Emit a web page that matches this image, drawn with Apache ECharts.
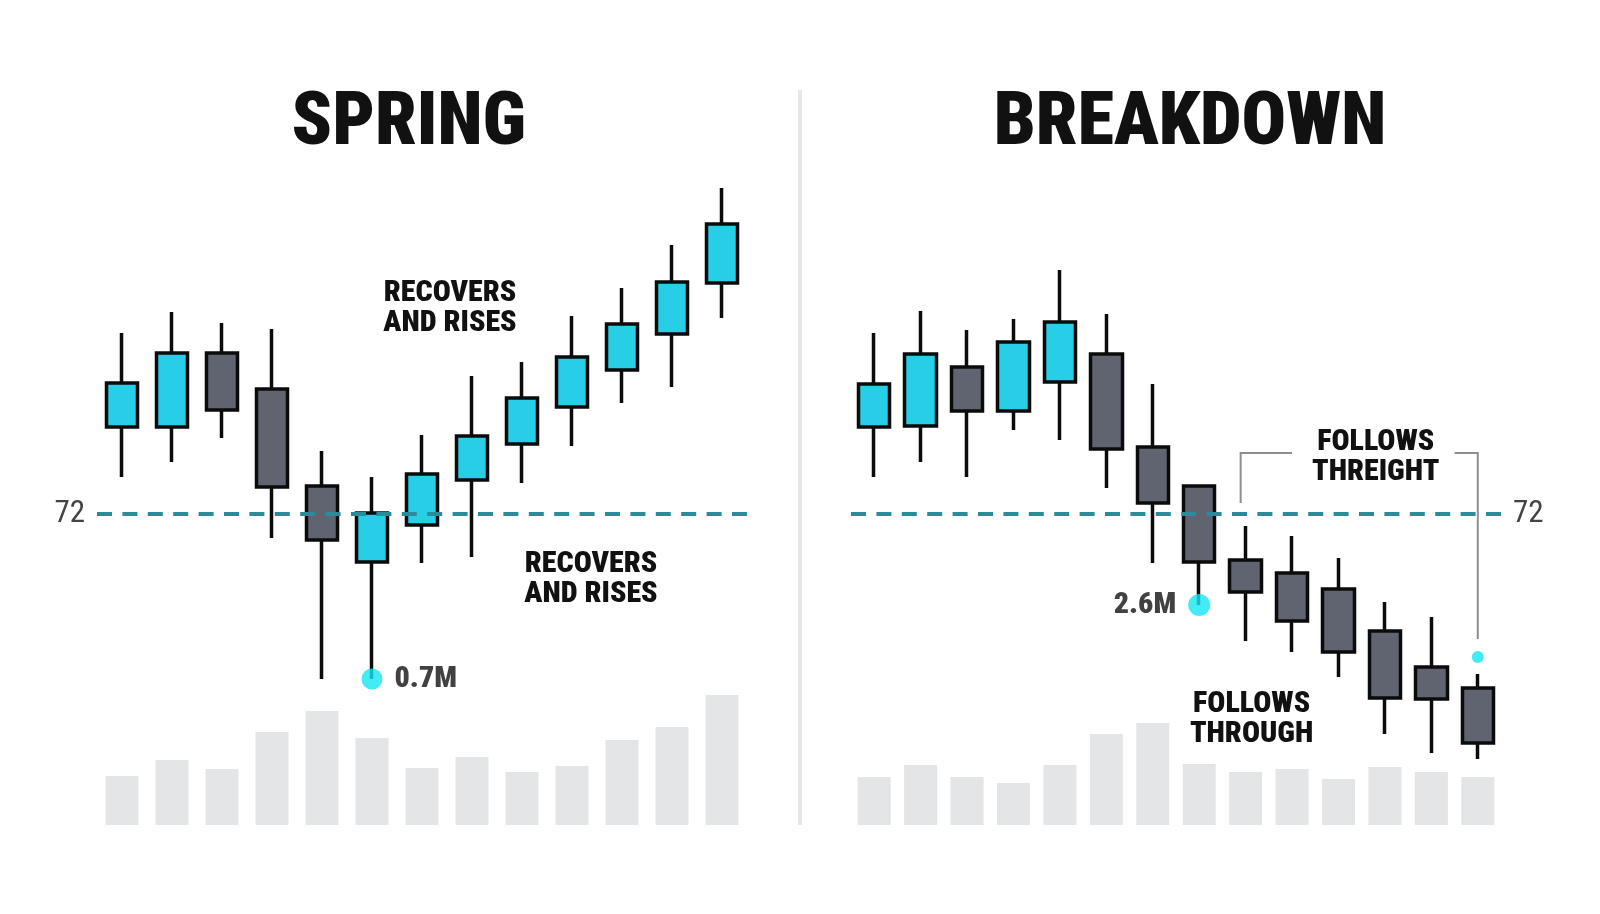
<!DOCTYPE html>
<html>
<head>
<meta charset="utf-8">
<style>
  html, body { margin: 0; padding: 0; background: #ffffff; }
  #chart { width: 1600px; height: 914px; }
</style>
<script src="https://cdn.jsdelivr.net/npm/echarts@6/dist/echarts.min.js"></script>
</head>
<body>
<div id="chart"></div>
<script>
// ---------- DATA ----------
const springCategories = ['1','2','3','4','5','6','7','8','9','10','11','12','13'];
const springOpen  = [76.35, 76.35, 80.05, 78.25, 73.40, 69.60, 71.45, 73.70, 75.50, 77.35, 79.20, 81.00, 83.55];
const springClose = [78.55, 80.05, 77.20, 73.35, 70.70, 72.05, 74.00, 75.90, 77.80, 79.85, 81.50, 83.60, 86.50];
const springLow   = [73.85, 74.60, 75.80, 70.80, 63.75, 63.75, 69.55, 69.85, 73.55, 75.40, 77.55, 78.35, 81.80];
const springHigh  = [81.05, 82.10, 81.55, 81.25, 75.15, 73.85, 75.95, 78.90, 79.60, 81.90, 83.30, 85.45, 88.30];
const springVolume = [0.98, 1.30, 1.12, 1.86, 2.28, 1.74, 1.14, 1.36, 1.06, 1.18, 1.70, 1.96, 2.60];

const breakdownCategories = ['1','2','3','4','5','6','7','8','9','10','11','12','13','14'];
const breakdownOpen  = [76.35, 76.40, 79.35, 77.15, 78.60, 80.00, 75.35, 73.40, 69.70, 69.05, 68.25, 66.15, 64.35, 63.30];
const breakdownClose = [78.50, 80.00, 77.15, 80.60, 81.60, 75.25, 72.55, 69.60, 68.10, 66.65, 65.10, 62.80, 62.75, 60.55];
const breakdownLow   = [73.85, 74.60, 73.85, 76.20, 75.70, 73.30, 69.55, 67.45, 65.65, 65.10, 63.85, 61.00, 60.05, 59.75];
const breakdownHigh  = [81.05, 82.15, 81.20, 81.75, 84.20, 82.00, 78.50, 73.40, 71.40, 70.90, 69.80, 67.60, 66.85, 64.00];
const breakdownVolume = [0.96, 1.20, 0.96, 0.84, 1.20, 1.82, 2.04, 1.22, 1.06, 1.12, 0.92, 1.16, 1.06, 0.96];

const levelValue = 72;
const levelLabel = '72';

// markers: [categoryIndex, price]
const springMarker = [5, 63.75];
const springMarkerLabel = '0.7M';
const breakdownMarker = [7, 67.45];
const breakdownMarkerLabel = '2.6M';
const breakdownSmallMarker = [13, 64.85];

const titles = ['SPRING', 'BREAKDOWN'];
const springNotes = ['RECOVERS\nAND RISES', 'RECOVERS\nAND RISES'];
const breakdownNotes = ['FOLLOWS\nTHREIGHT', 'FOLLOWS\nTHROUGH'];
// bracket: [leftCat, rightCat, topPrice, leftBottomPrice, rightBottomPrice]
const bracketSpec = [8, 13, 75.05, 72.55, 65.75];

// ---------- STYLE ----------
const FONT = "'Liberation Sans Narrow', 'Roboto Condensed', 'DejaVu Sans Condensed', Roboto, sans-serif";
const CYAN = '#26CEE6';
const GREY = '#5F6470';
const DOT = '#14E6F3';
const TEAL = '#2A8C9B';
const VOL = '#E4E5E7';

function ohlc(o, c, l, h) { return o.map((v, i) => [v, c[i], l[i], h[i]]); }

const chart = echarts.init(document.getElementById('chart'), null, { renderer: 'canvas' });

const gridW = 650;
const grids = [
  { left: 97, top: 174, width: gridW, height: 600 },
  { left: 851, top: 174, width: gridW, height: 600 },
  { left: 97, top: 675, width: gridW, height: 150 },
  { left: 851, top: 675, width: gridW, height: 150 }
];

function xAx(gi, cats) { return { type: 'category', gridIndex: gi, data: cats, show: false, boundaryGap: true }; }
function yPrice(gi) { return { type: 'value', gridIndex: gi, min: 59, max: 89, show: false, splitLine: { show: false } }; }
function yVol(gi) { return { type: 'value', gridIndex: gi, min: 0, max: 3, show: false, splitLine: { show: false } }; }

function levelLine(pos) {
  return {
    silent: true,
    symbol: 'none',
    lineStyle: { color: TEAL, type: [15, 10.4], width: 4 },
    label: { show: true, position: pos, formatter: levelLabel, fontSize: 31, color: '#444444', fontFamily: FONT, distance: 12 },
    data: [{ yAxis: levelValue }]
  };
}

function candle(name, xi, yi, data, pos) {
  return {
    name, type: 'candlestick', xAxisIndex: xi, yAxisIndex: yi,
    data, barWidth: 32,
    itemStyle: { color: CYAN, color0: GREY, borderColor: '#0b0b0b', borderColor0: '#0b0b0b', borderWidth: 3.5 },
    markLine: levelLine(pos),
    z: 3
  };
}

const option = {
  animation: false,
  backgroundColor: '#ffffff',
  grid: grids,
  xAxis: [xAx(0, springCategories), xAx(1, breakdownCategories), xAx(2, springCategories), xAx(3, breakdownCategories)],
  yAxis: [yPrice(0), yPrice(1), yVol(2), yVol(3)],
  series: [
    { type: 'bar', xAxisIndex: 2, yAxisIndex: 2, data: springVolume, barWidth: 33, itemStyle: { color: VOL }, z: 1 },
    { type: 'bar', xAxisIndex: 3, yAxisIndex: 3, data: breakdownVolume, barWidth: 33, itemStyle: { color: VOL }, z: 1 },
    candle('spring', 0, 0, ohlc(springOpen, springClose, springLow, springHigh), 'start'),
    candle('breakdown', 1, 1, ohlc(breakdownOpen, breakdownClose, breakdownLow, breakdownHigh), 'end'),
    {
      type: 'scatter', xAxisIndex: 0, yAxisIndex: 0, z: 5, symbolSize: 21,
      itemStyle: { color: DOT },
      label: { show: true, position: 'right', distance: 12, formatter: springMarkerLabel, fontSize: 30, fontWeight: 900, color: '#111', fontFamily: FONT },
      data: [springMarker]
    },
    {
      type: 'scatter', xAxisIndex: 1, yAxisIndex: 1, z: 5, symbolSize: 22,
      itemStyle: { color: DOT },
      label: { show: true, position: 'left', distance: 12, formatter: breakdownMarkerLabel, fontSize: 30, fontWeight: 900, color: '#111', fontFamily: FONT },
      data: [breakdownMarker]
    },
    {
      type: 'scatter', xAxisIndex: 1, yAxisIndex: 1, z: 5, symbolSize: 12,
      itemStyle: { color: DOT },
      data: [breakdownSmallMarker]
    }
  ]
};
chart.setOption(option);

// ---------- ANNOTATIONS (positioned from the axes) ----------
function px(gi, cat, val) { return chart.convertToPixel({ gridIndex: gi }, [cat, val]); }
function midX(gi, a, b, val) { const p = px(gi, a, val), q = px(gi, b, val); return [(p[0] + q[0]) / 2, p[1]]; }

function textEl(x, y, txt, size, lh) {
  return {
    type: 'text', x, y, z: 20,
    style: { text: txt, fontSize: size, fontWeight: 900, fontFamily: FONT, fill: '#111', align: 'center', verticalAlign: 'middle', lineHeight: lh || 30 }
  };
}

const [bl, br, bTop, bLeftBottom, bRightBottom] = bracketSpec;
const pL0 = px(1, bl, bLeftBottom), pL1 = px(1, bl, bTop), pL2 = px(1, bl + 1, bTop);
const pR0 = midX(1, br - 1, br, bTop), pR1 = px(1, br, bTop), pR2 = px(1, br, bRightBottom);

// note positions anchored to data coordinates
const nSpringUp = midX(0, 6, 7, 82.4);
const nSpringLow = midX(0, 9, 10, 68.85);
const nBrkUp = midX(1, 10, 11, 74.95);
const nBrkLow = px(1, 8, 61.85);

chart.setOption({
  graphic: [
    { type: 'line', z: 0, shape: { x1: 800, y1: 90, x2: 800, y2: 825 }, style: { stroke: '#E6E7E8', lineWidth: 4 } },
    textEl(409, 125, titles[0], 74, 80),
    textEl(1190, 125, titles[1], 74, 80),
    textEl(nSpringUp[0] + 3, nSpringUp[1] + 2, springNotes[0], 30),
    textEl(nSpringLow[0] - 6, nSpringLow[1] + 2, springNotes[1], 30),
    textEl(nBrkUp[0] + 14, nBrkUp[1] + 2, breakdownNotes[0], 30),
    textEl(nBrkLow[0] + 6, nBrkLow[1] + 2, breakdownNotes[1], 30),
    { type: 'polyline', z: 4, shape: { points: [[pL0[0] - 5, pL0[1]], [pL1[0] - 5, pL1[1]], [pL2[0], pL2[1]]] }, style: { stroke: '#8E8E8E', lineWidth: 2, fill: null } },
    { type: 'polyline', z: 4, shape: { points: [pR0, pR1, pR2] }, style: { stroke: '#8E8E8E', lineWidth: 2, fill: null } }
  ]
});
</script>
</body>
</html>
